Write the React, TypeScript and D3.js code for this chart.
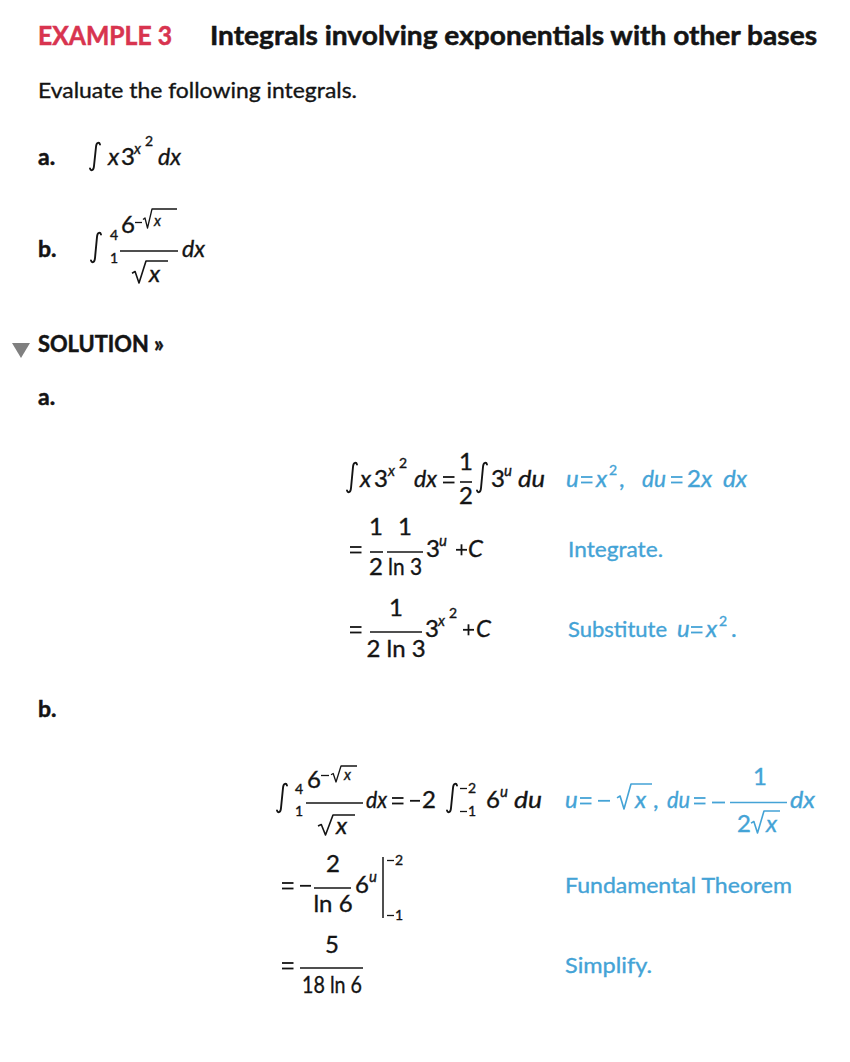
import * as d3 from 'd3'

// text content of the page
const headingLabel = 'EXAMPLE 3'
const headingTitle = 'Integrals involving exponentials with other bases'
const prompt = 'Evaluate the following integrals.'
const partLabels = ['a.', 'b.']
const notesA = ['Integrate.', 'Substitute']
const notesB = ['Fundamental Theorem', 'Simplify.']
const limitsX = ['4', '1']
const limitsU = ['2', '1'] // both carry a minus sign, drawn as a stroke

const RED = '#d8344f'
const BLUE = '#44a3d6'
const INK = '#141414'
const FONT = 'Lato, "Noto Sans", "DejaVu Sans", sans-serif'
const MS = 24 // math size

const T = ({ x, y, s = MS, it = false, b = false, fill = INK, anchor = 'start', tl, children }: any) => (
  <text
    x={x}
    y={y}
    fontSize={s}
    fontStyle={it ? 'italic' : 'normal'}
    fontWeight={b ? 700 : 400}
    fill={fill}
    stroke={fill}
    strokeWidth={b ? 0.5 : 0.35}
    textAnchor={anchor}
    textLength={tl}
    lengthAdjust={tl ? 'spacingAndGlyphs' : undefined}
  >
    {children}
  </text>
)

const Bar = ({ x0, x1, y, c = INK, sw = 1.6 }: any) => (
  <line x1={x0} x2={x1} y1={y} y2={y} stroke={c} strokeWidth={sw} />
)

// operators drawn as strokes so they keep the wide math look
const Eq = ({ x, y, c = INK, w = 11.5 }: any) => (
  <g stroke={c} strokeWidth={1.8}>
    <line x1={x} x2={x + w} y1={y - 10} y2={y - 10} />
    <line x1={x} x2={x + w} y1={y - 4.5} y2={y - 4.5} />
  </g>
)
const Minus = ({ x, y, c = INK, w = 11, dy = 7.2, sw = 1.8 }: any) => (
  <line x1={x} x2={x + w} y1={y - dy} y2={y - dy} stroke={c} strokeWidth={sw} />
)
const Plus = ({ x, y, c = INK, w = 11 }: any) => (
  <g stroke={c} strokeWidth={1.8}>
    <line x1={x} x2={x + w} y1={y - 7.2} y2={y - 7.2} />
    <line x1={x + w / 2} x2={x + w / 2} y1={y - 7.2 - w / 2} y2={y - 7.2 + w / 2} />
  </g>
)

// a small limit like "−2": short minus stroke plus the digit
const NegLim = ({ x, y, d }: any) => (
  <g>
    <Minus x={x} y={y} w={7} dy={4.5} sw={1.3} />
    <T x={x + 8} y={y} s={14}>{d}</T>
  </g>
)

function integralPath(x: number, y0: number, y1: number, w = 10) {
  const p = d3.path()
  p.moveTo(x + w, y0 + 2.5)
  p.bezierCurveTo(x + w - 0.6, y0 + 0.3, x + w * 0.64, y0 - 0.4, x + w * 0.6, y0 + 5)
  p.lineTo(x + w * 0.4, y1 - 5)
  p.bezierCurveTo(x + w * 0.36, y1 + 0.4, x + 0.6, y1 - 0.3, x, y1 - 2.5)
  return p.toString()
}

const Int = ({ x, y0, y1, w = 10 }: any) => (
  <path d={integralPath(x, y0, y1, w)} fill="none" stroke={INK} strokeWidth={1.9} strokeLinecap="round" />
)

function radicalPath(x: number, base: number, top: number, w: number, right: number) {
  const h = base - top
  const p = d3.path()
  p.moveTo(x, base - h * 0.42)
  p.lineTo(x + w * 0.22, base - h * 0.5)
  p.lineTo(x + w * 0.5, base + 1)
  p.lineTo(x + w, top)
  p.lineTo(right, top)
  return p.toString()
}

const Rad = ({ x, base, top, w, right, c = INK, sw = 1.6 }: any) => (
  <path d={radicalPath(x, base, top, w, right)} fill="none" stroke={c} strokeWidth={sw} strokeLinejoin="round" />
)

const triangle = d3.line()([[12, 343], [30, 343], [21, 358]]) + 'Z'

export default function App() {
  return (
    <svg
      width={850}
      height={1062}
      style={{ position: 'absolute', left: 0, top: 0, background: '#fff' }}
      fontFamily={FONT}
    >
      {/* heading */}
      <T x={38} y={45} s={26} b fill={RED} tl={134}>{headingLabel}</T>
      <T x={210} y={45} s={26} b tl={607}>{headingTitle}</T>
      <T x={38} y={98} s={22} tl={319}>{prompt}</T>

      {/* problem a */}
      <T x={38} y={165} s={23} b>{partLabels[0]}</T>
      <Int x={90} y0={142} y1={171} />
      <T x={108} y={165} it>x</T>
      <T x={121} y={165}>3</T>
      <T x={134} y={154} s={15} it>x</T>
      <T x={145} y={146} s={14}>2</T>
      <T x={158} y={165} it tl={23}>dx</T>

      {/* problem b */}
      <T x={38} y={257} s={23} b>{partLabels[1]}</T>
      <Int x={91} y0={232} y1={263} />
      <T x={110} y={240} s={14}>{limitsX[0]}</T>
      <T x={110} y={263} s={14}>{limitsX[1]}</T>
      <T x={121} y={233}>6</T>
      <Minus x={135} y={227} w={7} dy={4.5} sw={1.3} />
      <Rad x={143} base={227} top={209} w={9} right={177} sw={1.3} />
      <T x={154} y={226} s={15} it>x</T>
      <Bar x0={120} x1={178} y={251} />
      <Rad x={132} base={282} top={261} w={14} right={168} />
      <T x={149} y={282} it>x</T>
      <T x={182} y={257} it tl={23}>dx</T>

      {/* solution toggle */}
      <path d={triangle} fill="#808080" />
      <T x={38} y={352} s={22} b tl={126}>SOLUTION »</T>

      {/* solution a */}
      <T x={38} y={405} s={23} b>{partLabels[0]}</T>

      {/* a, line 1 */}
      <Int x={347} y0={462} y1={493} />
      <T x={360} y={487} it>x</T>
      <T x={374} y={487}>3</T>
      <T x={388} y={476} s={15} it>x</T>
      <T x={399} y={468} s={14}>2</T>
      <T x={414} y={487} it tl={23}>dx</T>
      <Eq x={443} y={487} />
      <T x={466} y={470} anchor="middle">1</T>
      <Bar x0={460} x1={472} y={482} />
      <T x={466} y={504} anchor="middle">2</T>
      <Int x={477} y0={462} y1={493} />
      <T x={491} y={487}>3</T>
      <T x={504} y={476} s={15} it>u</T>
      <T x={518} y={487} it tl={27}>du</T>

      <T x={566} y={487} it fill={BLUE}>u</T>
      <Eq x={581} y={487} c={BLUE} />
      <T x={596} y={487} it fill={BLUE}>x</T>
      <T x={609} y={475} s={14} fill={BLUE}>2</T>
      <T x={619} y={487} fill={BLUE}>,</T>
      <T x={642} y={487} it fill={BLUE} tl={24}>du</T>
      <Eq x={671} y={487} c={BLUE} />
      <T x={687} y={487} fill={BLUE}>2</T>
      <T x={701} y={487} it fill={BLUE}>x</T>
      <T x={723} y={487} it fill={BLUE} tl={24}>dx</T>

      {/* a, line 2 */}
      <Eq x={350} y={557} />
      <T x={376} y={535} anchor="middle">1</T>
      <Bar x0={370} x1={383} y={552} />
      <T x={376} y={575} anchor="middle">2</T>
      <T x={405} y={535} anchor="middle">1</T>
      <Bar x0={387} x1={423} y={552} />
      <T x={405} y={575} anchor="middle" tl={34}>ln 3</T>
      <T x={426} y={557}>3</T>
      <T x={439} y={546} s={15} it>u</T>
      <Plus x={456} y={557} />
      <T x={468} y={557} it>C</T>
      <T x={568} y={557} s={22} fill={BLUE} tl={95}>{notesA[0]}</T>

      {/* a, line 3 */}
      <Eq x={350} y={637} />
      <T x={396} y={616} anchor="middle">1</T>
      <Bar x0={370} x1={422} y={632} />
      <T x={396} y={657} anchor="middle">2 ln 3</T>
      <T x={425} y={637}>3</T>
      <T x={438} y={626} s={15} it>x</T>
      <T x={449} y={618} s={14}>2</T>
      <Plus x={463} y={637} />
      <T x={476} y={637} it>C</T>
      <T x={568} y={637} s={22} fill={BLUE} tl={99}>{notesA[1]}</T>
      <T x={677} y={637} it fill={BLUE}>u</T>
      <Eq x={691} y={637} c={BLUE} />
      <T x={706} y={637} it fill={BLUE}>x</T>
      <T x={719} y={626} s={14} fill={BLUE}>2</T>
      <T x={731} y={637} fill={BLUE}>.</T>

      {/* solution b */}
      <T x={38} y={717} s={23} b>{partLabels[1]}</T>

      {/* b, line 1 */}
      <Int x={277} y0={783} y1={813} />
      <T x={295} y={794} s={14}>{limitsX[0]}</T>
      <T x={295} y={816} s={14}>{limitsX[1]}</T>
      <T x={307} y={788}>6</T>
      <Minus x={321} y={780} w={8} dy={4.5} sw={1.3} />
      <Rad x={331} base={781} top={766} w={10} right={357} sw={1.3} />
      <T x={344} y={780} s={15} it>x</T>
      <Bar x0={306} x1={363} y={803} />
      <Rad x={318} base={834} top={815} w={15} right={355} />
      <T x={336} y={834} it>x</T>
      <T x={366} y={808} it tl={21}>dx</T>
      <Eq x={392} y={808} />
      <Minus x={410} y={808} w={10} />
      <T x={422} y={808}>2</T>
      <Int x={447} y0={783} y1={813} />
      <NegLim x={460} y={793} d={limitsU[0]} />
      <NegLim x={460} y={816} d={limitsU[1]} />
      <T x={486} y={808}>6</T>
      <T x={500} y={797} s={15} it>u</T>
      <T x={514} y={808} it tl={28}>du</T>

      <T x={565} y={808} it fill={BLUE}>u</T>
      <Eq x={580} y={808} c={BLUE} />
      <Minus x={598} y={808} w={12} c={BLUE} />
      <Rad x={617} base={808} top={784} w={14} right={652} c={BLUE} />
      <T x={635} y={808} it fill={BLUE}>x</T>
      <T x={653} y={808} fill={BLUE}>,</T>
      <T x={667} y={808} it fill={BLUE} tl={23}>du</T>
      <Eq x={694} y={808} c={BLUE} />
      <Minus x={712} y={808} w={13} c={BLUE} dy={5.5} />
      <T x={760} y={785} anchor="middle" fill={BLUE}>1</T>
      <Bar x0={730} x1={787} y={802.5} c={BLUE} />
      <T x={737} y={832} fill={BLUE}>2</T>
      <Rad x={751} base={832} top={811} w={13} right={780} c={BLUE} />
      <T x={766} y={832} it fill={BLUE}>x</T>
      <T x={790} y={808} it fill={BLUE} tl={25}>dx</T>

      {/* b, line 2 */}
      <Eq x={282} y={893} />
      <Minus x={300} y={893} w={11} />
      <T x={333} y={872} anchor="middle">2</T>
      <Bar x0={314} x1={351} y={888} />
      <T x={333} y={912} anchor="middle">ln 6</T>
      <T x={355} y={893}>6</T>
      <T x={369} y={882} s={15} it>u</T>
      <line x1={383} x2={383} y1={857} y2={918} stroke={INK} strokeWidth={1.5} />
      <NegLim x={387} y={865} d={limitsU[0]} />
      <NegLim x={387} y={920} d={limitsU[1]} />
      <T x={565} y={893} s={22} fill={BLUE} tl={227}>{notesB[0]}</T>

      {/* b, line 3 */}
      <Eq x={282} y={973} />
      <T x={332} y={953} anchor="middle">5</T>
      <Bar x0={300} x1={363} y={968} />
      <T x={332} y={993} anchor="middle" tl={60}>18 ln 6</T>
      <T x={565} y={973} s={22} fill={BLUE} tl={87}>{notesB[1]}</T>
    </svg>
  )
}
